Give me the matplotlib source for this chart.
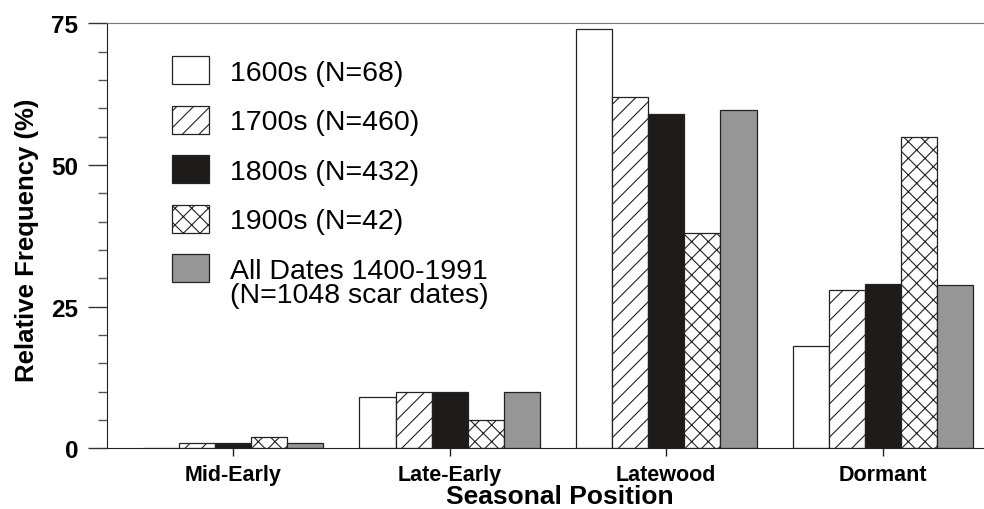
import matplotlib
matplotlib.use('Agg')
import matplotlib.pyplot as plt
import numpy as np

plt.rcParams['font.family'] = ['Liberation Sans', 'DejaVu Sans']
plt.rcParams['hatch.linewidth'] = 0.8

positions = ['Mid-Early', 'Late-Early', 'Latewood', 'Dormant']
freq_1600s = [0, 9, 74, 18]
freq_1700s = [1, 10, 62, 28]
freq_1800s = [1, 10, 59, 29]
freq_1900s = [2, 5, 38, 55]
freq_all = [1, 10, 59.7, 28.8]

series_labels = ['1600s (N=68)', '1700s (N=460)', '1800s (N=432)',
                 '1900s (N=42)', 'All Dates 1400-1991']
series_data = [freq_1600s, freq_1700s, freq_1800s, freq_1900s, freq_all]
fills = ['white', 'white', '#1f1b18', 'white', '#969696']
hatches = [None, '//', None, 'xx', None]

fig = plt.figure(figsize=(9.84, 5.10), dpi=100)
ax = fig.add_axes([107/984, 1-449.3/510, 1-107/984, (449.3-24.3)/510])

x = np.arange(len(positions))
w = 1/6
for i, (vals, lab) in enumerate(zip(series_data, series_labels)):
    ax.bar(x + (i-2)*w, vals, w, color=fills[i], hatch=hatches[i],
           edgecolor='#222222', linewidth=0.9, label=lab)

ax.set_xlim(-0.582, 3.467)
ax.set_ylim(0, 75)
ax.set_yticks([0, 25, 50, 75])
ax.set_yticks(np.arange(0, 76, 5), minor=True)
ax.set_xticks(x)
ax.set_xticklabels(positions, fontsize=15.5, fontweight='bold')
for t in ax.get_yticklabels():
    t.set_fontweight('bold')
ax.tick_params(axis='y', which='major', length=13.7, width=1, color='#333333',
               labelsize=17.5, pad=7)
ax.tick_params(axis='y', which='minor', length=6.8, width=1, color='#555555')
ax.tick_params(axis='x', length=6, width=1, color='#222222', pad=5)

ax.spines['right'].set_visible(False)
ax.spines['top'].set_color('#777777')
ax.spines['left'].set_color('#222222')
ax.spines['bottom'].set_color('#222222')

ax.set_xlabel('Seasonal Position', fontsize=19, fontweight='bold', va='center')
ax.xaxis.set_label_coords((560-107)/877, (449.3-497)/425)
ax.set_ylabel('Relative Frequency (%)', fontsize=18.5, fontweight='bold', va='center')
ax.yaxis.set_label_coords((27-107)/877, (449.3-240)/425)

leg = ax.legend(loc='upper left', bbox_to_anchor=(172/984, 1-57/510),
                bbox_transform=fig.transFigure, frameon=False, fontsize=20.5,
                handlelength=1.3, handleheight=1.16, handletextpad=0.72,
                labelspacing=0.69, borderpad=0, borderaxespad=0)
fig.text(230/984, 1-296/510, '(N=1048 scar dates)', fontsize=20.5,
         va='center', ha='left')

fig.savefig('out.png', dpi=100)
